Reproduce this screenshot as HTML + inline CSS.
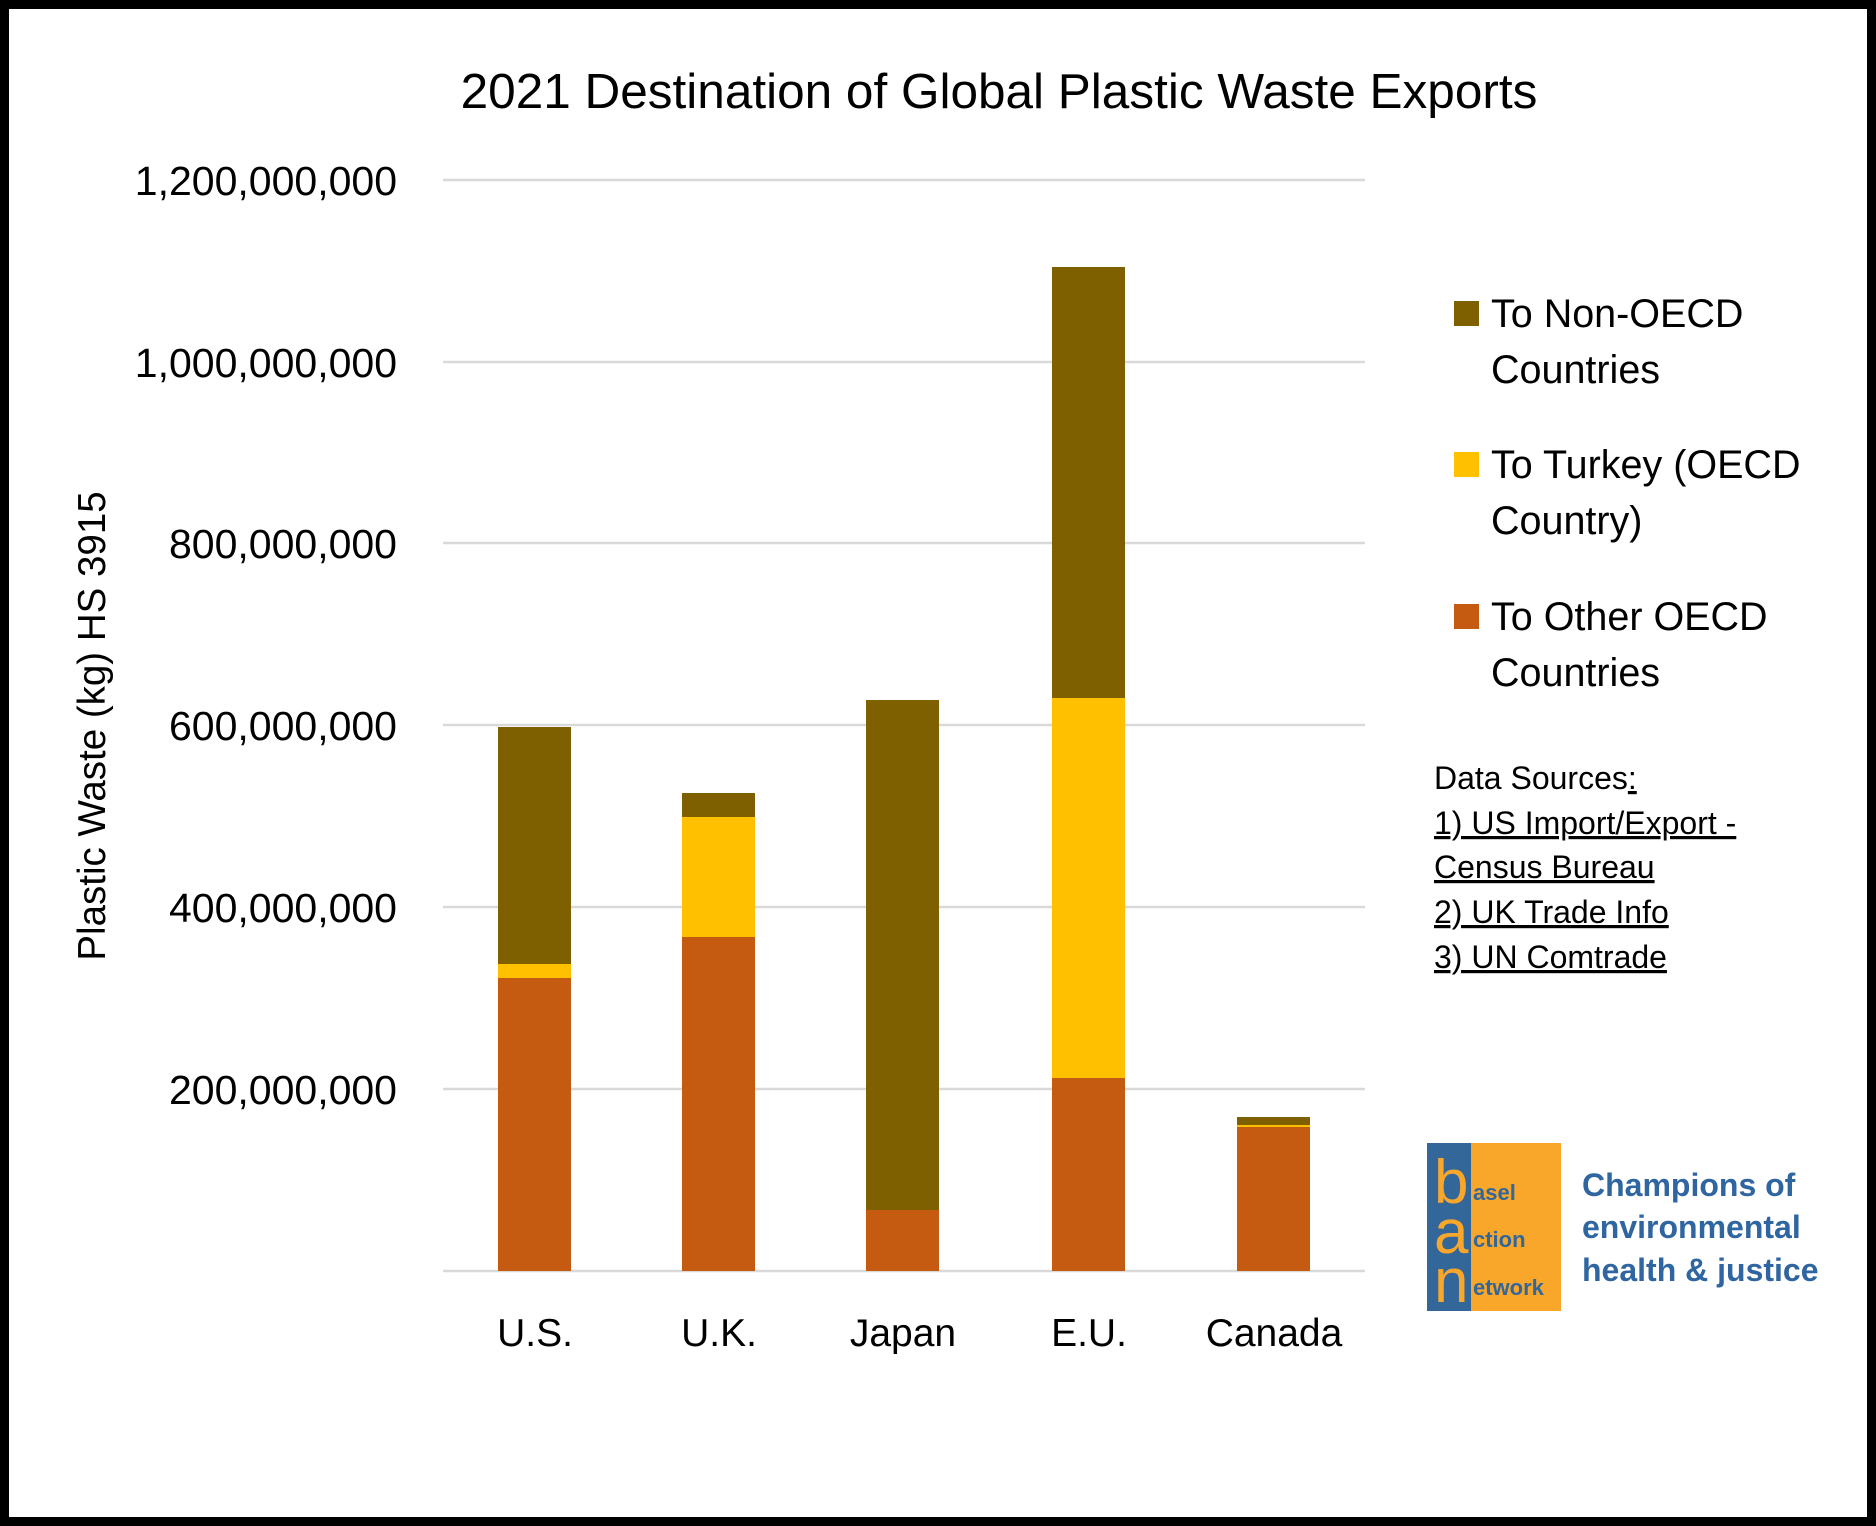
<!DOCTYPE html>
<html><head><meta charset="utf-8"><style>
html,body{margin:0;padding:0;background:#fff;}
svg{display:block;}
</style></head><body>
<svg width="1876" height="1526" viewBox="0 0 1876 1526" xmlns="http://www.w3.org/2000/svg" font-family="'Liberation Sans', sans-serif">
<rect x="4.5" y="4.5" width="1867" height="1517" fill="#fff" stroke="#000" stroke-width="9"/>
<text x="999" y="108" font-size="49.5" text-anchor="middle" fill="#000">2021 Destination of Global Plastic Waste Exports</text>
<g stroke="#d9d9d9" stroke-width="2.5">
<line x1="443" x2="1365" y1="180" y2="180"/>
<line x1="443" x2="1365" y1="362" y2="362"/>
<line x1="443" x2="1365" y1="543" y2="543"/>
<line x1="443" x2="1365" y1="725" y2="725"/>
<line x1="443" x2="1365" y1="907" y2="907"/>
<line x1="443" x2="1365" y1="1089" y2="1089"/>
<line x1="443" x2="1365" y1="1271" y2="1271"/>
</g>
<g font-size="41" text-anchor="end" fill="#000">
<text x="397" y="195">1,200,000,000</text>
<text x="397" y="377">1,000,000,000</text>
<text x="397" y="558">800,000,000</text>
<text x="397" y="740">600,000,000</text>
<text x="397" y="922">400,000,000</text>
<text x="397" y="1104">200,000,000</text>
</g>
<text transform="translate(105,726) rotate(-90)" font-size="38.5" text-anchor="middle" fill="#000">Plastic Waste (kg) HS 3915</text>
<g>
<rect x="498" y="978" width="73" height="293" fill="#C55A11"/>
<rect x="498" y="964" width="73" height="14" fill="#FFC000"/>
<rect x="498" y="727" width="73" height="237" fill="#7F6000"/>

<rect x="682" y="937" width="73" height="334" fill="#C55A11"/>
<rect x="682" y="817" width="73" height="120" fill="#FFC000"/>
<rect x="682" y="793" width="73" height="24" fill="#7F6000"/>

<rect x="866" y="1210" width="73" height="61" fill="#C55A11"/>
<rect x="866" y="700" width="73" height="510" fill="#7F6000"/>

<rect x="1052" y="1078" width="73" height="193" fill="#C55A11"/>
<rect x="1052" y="698" width="73" height="380" fill="#FFC000"/>
<rect x="1052" y="267" width="73" height="431" fill="#7F6000"/>

<rect x="1237" y="1127" width="73" height="144" fill="#C55A11"/>
<rect x="1237" y="1125" width="73" height="2" fill="#FFC000"/>
<rect x="1237" y="1117" width="73" height="8" fill="#7F6000"/>
</g>
<g font-size="39" text-anchor="middle" fill="#000">
<text x="535" y="1346">U.S.</text>
<text x="719" y="1346">U.K.</text>
<text x="903" y="1346">Japan</text>
<text x="1089" y="1346">E.U.</text>
<text x="1274" y="1346">Canada</text>
</g>
<g font-size="39.5" fill="#000">
<rect x="1454" y="301" width="25" height="25" fill="#7F6000"/>
<text x="1491" y="327">To Non-OECD</text>
<text x="1491" y="383">Countries</text>
<rect x="1454" y="452" width="25" height="25" fill="#FFC000"/>
<text x="1491" y="478">To Turkey (OECD</text>
<text x="1491" y="534">Country)</text>
<rect x="1454" y="604" width="25" height="25" fill="#C55A11"/>
<text x="1491" y="630">To Other OECD</text>
<text x="1491" y="686">Countries</text>
</g>
<g font-size="32" fill="#000">
<text x="1434" y="789">Data Sources<tspan text-decoration="underline">:</tspan></text>
<text x="1434" y="834" text-decoration="underline">1) US Import/Export -</text>
<text x="1434" y="878" text-decoration="underline">Census Bureau</text>
<text x="1434" y="923" text-decoration="underline">2) UK Trade Info</text>
<text x="1434" y="968" text-decoration="underline">3) UN Comtrade</text>
</g>
<rect x="1427" y="1143" width="134" height="168" fill="#F9A72B"/>
<rect x="1427" y="1143" width="44" height="168" fill="#336699"/>
<g fill="#F9A72B" font-size="62">
<text x="1434" y="1203">b</text>
<text x="1434" y="1253">a</text>
<text x="1434" y="1302">n</text>
</g>
<g fill="#336699" font-size="22" font-weight="bold">
<text x="1473" y="1200">asel</text>
<text x="1473" y="1247">ction</text>
<text x="1473" y="1295">etwork</text>
</g>
<g fill="#2F65A0" font-size="32" font-weight="bold">
<text x="1582" y="1196">Champions of</text>
<text x="1582" y="1238">environmental</text>
<text x="1582" y="1281">health &amp; justice</text>
</g>
</svg>
</body></html>
